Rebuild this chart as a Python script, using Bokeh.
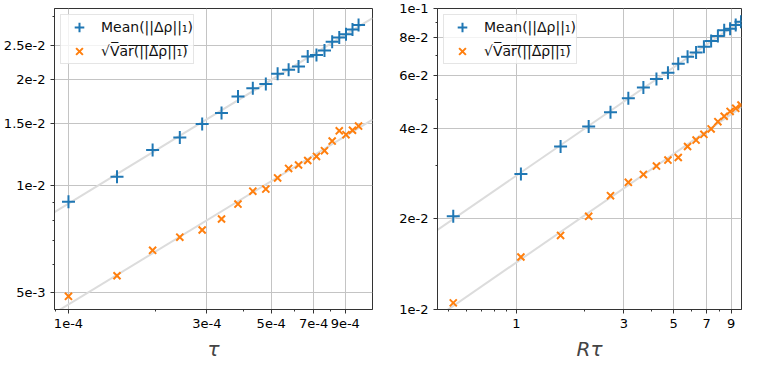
import numpy as np
from bokeh.plotting import figure
from bokeh.layouts import row
from bokeh.models import FixedTicker, CustomJSTickFormatter, Range1d
from bokeh.embed import file_html
from bokeh.resources import INLINE

# ---------------- data ----------------
tau = [1.00e-4, 1.47e-4, 1.95e-4, 2.42e-4, 2.89e-4, 3.37e-4, 3.84e-4, 4.32e-4,
       4.79e-4, 5.26e-4, 5.74e-4, 6.21e-4, 6.68e-4, 7.16e-4, 7.63e-4, 8.11e-4,
       8.58e-4, 9.05e-4, 9.53e-4, 1.00e-3]
mean_tau = [9.03e-3, 1.062e-2, 1.264e-2, 1.370e-2, 1.497e-2, 1.607e-2, 1.789e-2,
            1.889e-2, 1.940e-2, 2.073e-2, 2.129e-2, 2.173e-2, 2.319e-2, 2.342e-2,
            2.412e-2, 2.555e-2, 2.626e-2, 2.681e-2, 2.765e-2, 2.847e-2]
std_tau = [4.88e-3, 5.58e-3, 6.58e-3, 7.17e-3, 7.51e-3, 8.07e-3, 8.89e-3, 9.67e-3,
           9.80e-3, 1.054e-2, 1.121e-2, 1.146e-2, 1.180e-2, 1.212e-2, 1.258e-2,
           1.339e-2, 1.431e-2, 1.396e-2, 1.437e-2, 1.476e-2]

rtau = [0.524, 1.047, 1.571, 2.094, 2.618, 3.142, 3.665, 4.189, 4.712, 5.236,
        5.760, 6.283, 6.807, 7.330, 7.854, 8.378, 8.901, 9.425, 9.948]
mean_rtau = [2.04e-2, 2.818e-2, 3.48e-2, 4.055e-2, 4.52e-2, 5.03e-2, 5.46e-2,
             5.83e-2, 6.12e-2, 6.55e-2, 6.91e-2, 7.14e-2, 7.47e-2, 7.80e-2,
             8.11e-2, 8.46e-2, 8.56e-2, 8.81e-2, 9.03e-2]
std_rtau = [1.052e-2, 1.494e-2, 1.762e-2, 2.04e-2, 2.389e-2, 2.646e-2, 2.81e-2,
            2.995e-2, 3.136e-2, 3.198e-2, 3.48e-2, 3.655e-2, 3.818e-2, 3.98e-2,
            4.207e-2, 4.385e-2, 4.55e-2, 4.66e-2, 4.777e-2]

# ticks
lx_major = [1e-4, 3e-4, 5e-4, 7e-4, 9e-4]
lx_labels = ["1e-4", "3e-4", "5e-4", "7e-4", "9e-4"]
lx_minor = [9e-5, 2e-4, 4e-4, 6e-4, 8e-4]
ly_major = [5e-3, 1e-2, 1.5e-2, 2e-2, 2.5e-2]
ly_labels = ["5e-3", "1e-2", "1.5e-2", "2e-2", "2.5e-2"]
ly_minor = [6e-3, 7e-3, 8e-3, 9e-3, 3e-2]

rx_major = [1, 3, 5, 7, 9]
rx_labels = ["1", "3", "5", "7", "9"]
rx_minor = [0.5, 0.6, 0.7, 0.8, 0.9, 2, 4, 6, 8]
ry_major = [1e-2, 2e-2, 4e-2, 6e-2, 8e-2, 1e-1]
ry_labels = ["1e-2", "2e-2", "4e-2", "6e-2", "8e-2", "1e-1"]
ry_minor = [3e-2, 5e-2, 7e-2, 9e-2]

BLUE = "#1f77b4"
ORANGE = "#ff7f0e"
FONT = "DejaVu Sans"
LAB_MEAN = "Mean(||Δρ||₁)"
LAB_STD = "√" + "".join(c + "\u0305" for c in "Var(||Δρ||₁)")


def fmt(tks, labels):
    return CustomJSTickFormatter(args=dict(tk=tks, lb=labels), code="""
        for (let i = 0; i < tk.length; i++) {
            if (Math.abs(tk[i] - tick) / tk[i] < 1e-6) return lb[i];
        }
        return '';
    """)


def style_axis(ax, major, labels, minor):
    ax.ticker = FixedTicker(ticks=major, minor_ticks=minor)
    ax.formatter = fmt(major, labels)
    ax.major_label_text_font = FONT
    ax.major_label_text_font_size = "13px"
    ax.major_label_text_color = "black"
    ax.major_tick_in = 0
    ax.major_tick_out = 4
    ax.minor_tick_in = 0
    ax.minor_tick_out = 2
    ax.axis_line_color = "#333333"
    ax.major_tick_line_color = "#333333"
    ax.minor_tick_line_color = "#333333"
    ax.major_label_standoff = 5
    ax.axis_label_text_font = FONT
    ax.axis_label_text_font_style = "italic"
    ax.axis_label_text_font_size = "20px"
    ax.axis_label_standoff = 6


def make_panel(x, m, s, xr, yr, xlab, xt, yt, width, bl, br):
    p = figure(width=width, height=363, x_axis_type="log", y_axis_type="log",
               x_range=Range1d(*xr), y_range=Range1d(*yr),
               output_backend="svg", toolbar_location=None,
               min_border_left=bl, min_border_right=br,
               min_border_top=8, min_border_bottom=54)
    p.outline_line_color = "#333333"
    p.outline_line_width = 1
    p.xgrid.ticker = FixedTicker(ticks=xt[0])
    p.ygrid.ticker = FixedTicker(ticks=yt[0])
    for g in (p.xgrid, p.ygrid):
        g.grid_line_color = "#c4c4c4"
        g.grid_line_width = 1
    style_axis(p.xaxis[0], *xt)
    style_axis(p.yaxis[0], *yt)
    p.xaxis.axis_label = xlab

    lx = np.log10(np.array(x))
    xs = np.array([xr[0], xr[1]])
    for ys in (m, s):
        b, a = np.polyfit(lx, np.log10(np.array(ys)), 1)
        p.line(xs, 10 ** (a + b * np.log10(xs)), line_color="#dcdcdc", line_width=2)

    p.scatter(x, m, marker="cross", size=13, line_width=2, line_color=BLUE,
              legend_label=LAB_MEAN)
    p.scatter(x, s, marker="x", size=10, line_width=2, line_color=ORANGE,
              legend_label=LAB_STD)

    lg = p.legend[0]
    lg.location = "top_left"
    lg.margin = 6
    lg.padding = 0
    lg.spacing = 0
    lg.glyph_width = 36
    lg.glyph_height = 24
    lg.label_height = 24
    lg.label_standoff = 4
    lg.label_text_font = FONT
    lg.label_text_font_size = "14px"
    lg.label_text_color = "#111111"
    lg.border_line_color = "#cccccc"
    lg.background_fill_alpha = 0.8
    return p


left = make_panel(tau, mean_tau, std_tau, (0.895e-4, 1.117e-3), (4.48e-3, 3.17e-2),
                  "τ", (lx_major, lx_labels, lx_minor), (ly_major, ly_labels, ly_minor),
                  380, 53, 8)
right = make_panel(rtau, mean_rtau, std_rtau, (0.446, 10.0), (1e-2, 1e-1),
                   "Rτ", (rx_major, rx_labels, rx_minor), (ry_major, ry_labels, ry_minor),
                   362, 57, 1)

layout = row(left, right)
open("out.html", "w").write(file_html(layout, INLINE))
